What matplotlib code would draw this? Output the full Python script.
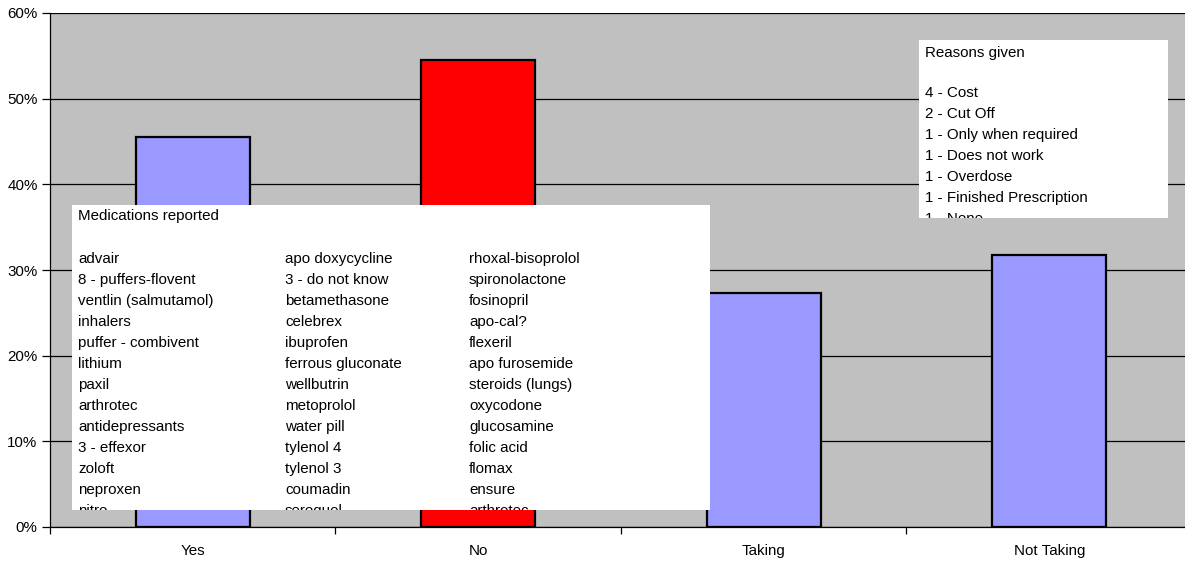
import matplotlib
matplotlib.use("Agg")
import matplotlib.pyplot as plt
from matplotlib.patches import Rectangle
from matplotlib.transforms import Bbox, TransformedBbox
from matplotlib.ticker import FixedLocator, PercentFormatter

# Chart data
categories = ["Yes", "No", "Taking", "Not Taking"]
values = [45.5, 54.5, 27.3, 31.8]
bar_colors = ["#9999FF", "#FF0000", "#9999FF", "#9999FF"]
y_ticks = [0, 10, 20, 30, 40, 50, 60]

med_title = "Medications reported"
med_col1 = ["advair", "8 - puffers-flovent", "ventlin (salmutamol)", "inhalers",
            "puffer - combivent", "lithium", "paxil", "arthrotec", "antidepressants",
            "3 - effexor", "zoloft", "neproxen", "nitro"]
med_col2 = ["apo doxycycline", "3 - do not know", "betamethasone", "celebrex",
            "ibuprofen", "ferrous gluconate", "wellbutrin", "metoprolol", "water pill",
            "tylenol 4", "tylenol 3", "coumadin", "seroquel"]
med_col3 = ["rhoxal-bisoprolol", "spironolactone", "fosinopril", "apo-cal?", "flexeril",
            "apo furosemide", "steroids (lungs)", "oxycodone", "glucosamine", "folic acid",
            "flomax", "ensure", "arthrotec"]

reason_title = "Reasons given"
reasons = ["4 - Cost", "2 - Cut Off", "1 - Only when required", "1 - Does not work",
           "1 - Overdose", "1 - Finished Prescription", "1 - None"]

W, H = 1185, 561
FONT = "Liberation Sans"
FS = 10.9

fig = plt.figure(figsize=(W / 100, H / 100), dpi=100)
fig.patch.set_facecolor("white")

# main plot area in pixel units
left, right, top, bottom = 50, 1192, 13, 527
ax = fig.add_axes([left / W, 1 - bottom / H, (right - left) / W, (bottom - top) / H])
ax.set_facecolor("#C0C0C0")

x = list(range(len(categories)))
ax.bar(x, values, width=0.4, color=bar_colors, edgecolor="black", linewidth=1.6, zorder=3)

ax.set_xlim(-0.5, len(categories) - 0.5)
ax.set_ylim(0, 60)
ax.yaxis.set_major_locator(FixedLocator(y_ticks))
ax.yaxis.set_major_formatter(PercentFormatter(decimals=0))
ax.grid(axis="y", color="black", linewidth=0.9, zorder=1)
ax.set_axisbelow(True)

ax.set_xticks(x)
ax.set_xticklabels(categories, fontfamily=FONT, fontsize=FS)
ax.xaxis.set_minor_locator(FixedLocator([i - 0.5 for i in range(len(categories) + 1)]))
ax.tick_params(axis="x", which="major", length=0, pad=12)
ax.tick_params(axis="x", which="minor", length=5, width=0.9, direction="out", color="black")
ax.tick_params(axis="y", length=6, width=0.9, direction="out", pad=3)
for lab in ax.get_yticklabels():
    lab.set_fontfamily(FONT)
    lab.set_fontsize(FS)

for side in ["top", "right"]:
    ax.spines[side].set_visible(False)
ax.spines["left"].set_color("black")
ax.spines["bottom"].set_color("black")
ax.spines["left"].set_linewidth(0.9)
ax.spines["bottom"].set_linewidth(0.9)

# overlay in pixel coordinates for the note boxes
ov = fig.add_axes([0, 0, 1, 1], zorder=5)
ov.set_xlim(0, W)
ov.set_ylim(H, 0)
ov.axis("off")


def note_box(x0, y0, x1, y1, title, title_y, columns, col_x, first_y, step):
    rect = Rectangle((x0, y0), x1 - x0, y1 - y0, facecolor="white", edgecolor="none")
    ov.add_patch(rect)
    clip = TransformedBbox(Bbox([[x0, y0], [x1, y1]]), ov.transData)
    t = ov.text(col_x[0], title_y, title, fontfamily=FONT, fontsize=FS,
                va="center", ha="left", color="black")
    t.set_clip_box(clip)
    for cx, col in zip(col_x, columns):
        for i, item in enumerate(col):
            tt = ov.text(cx, first_y + i * step, item, fontfamily=FONT, fontsize=FS,
                         va="center", ha="left", color="black", clip_on=True)
            tt.set_clip_box(clip)


note_box(72, 205, 710, 510, med_title, 216, [med_col1, med_col2, med_col3],
         [78, 285, 469], 259, 21.0)
note_box(919, 40, 1168, 218, reason_title, 53, [reasons], [925], 93, 21.0)

fig.savefig("out.png", dpi=100)
